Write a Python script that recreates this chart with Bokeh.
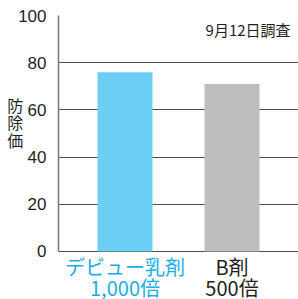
from bokeh.plotting import figure
from bokeh.models import Range1d, FixedTicker, Label, ColumnDataSource
from bokeh.embed import file_html
from bokeh.resources import INLINE

cat_line1 = ["デビュー乳剤", "B剤"]
cat_line2 = ["1,000倍", "500倍"]
values = [76, 71]
bar_colors = ["#6dcff6", "#bcbec0"]
label_colors = ["#1aaee8", "#231f20"]
y_ticks = [0, 20, 40, 60, 80, 100]
note = "9月12日調査"
y_title = "防\n除\n価\n\n\n\n"

xpos = [1, 2]
src = ColumnDataSource(dict(x=xpos, top=values, color=bar_colors))

p = figure(width=298, height=299, output_backend="svg", toolbar_location=None,
           x_range=Range1d(0.3785, 2.6215), y_range=Range1d(-20.34, 100),
           min_border_left=58, min_border_right=0, min_border_top=15, min_border_bottom=0)
p.outline_line_color = None
p.background_fill_color = "white"

p.vbar(x="x", top="top", width=0.514, color="color", source=src, line_color=None)

p.xgrid.visible = False
p.ygrid.ticker = FixedTicker(ticks=y_ticks)
p.ygrid.grid_line_color = "#4d4d4d"
p.ygrid.grid_line_width = 1
p.ygrid.level = "underlay"

p.yaxis.ticker = FixedTicker(ticks=y_ticks)
p.yaxis.bounds = (0, 100)
p.yaxis.major_tick_line_color = None
p.yaxis.minor_tick_line_color = None
p.yaxis.axis_line_color = "#777777"
p.yaxis.axis_line_width = 1.5
p.yaxis.major_label_text_font = "Liberation Sans"
p.yaxis.major_label_text_font_size = "17px"
p.yaxis.major_label_text_color = "#231f20"
p.yaxis.major_label_standoff = 6
p.yaxis.axis_label = y_title
p.yaxis.axis_label_orientation = "horizontal"
p.yaxis.axis_label_standoff = -8
p.yaxis.axis_label_text_font = "Noto Sans CJK JP"
p.yaxis.axis_label_text_font_size = "16px"
p.yaxis.axis_label_text_font_style = "normal"
p.yaxis.axis_label_text_color = "#231f20"
p.yaxis.axis_label_text_line_height = 0.73

p.xaxis.visible = False

for xi, t1, t2, col in zip(xpos, cat_line1, cat_line2, label_colors):
    p.add_layout(Label(x=xi, y=-6.4, text=t1, text_align="center", text_baseline="middle",
                       text_font="Noto Sans CJK JP", text_font_size="20px", text_color=col))
    p.add_layout(Label(x=xi, y=-15.4, text=t2, text_align="center", text_baseline="middle",
                       text_font="Noto Sans CJK JP", text_font_size="20px", text_color=col))

p.add_layout(Label(x=2.547, y=94.1, text=note, text_align="right", text_baseline="middle",
                   text_font="Noto Sans CJK JP", text_font_size="15px", text_color="#231f20"))

open("out.html", "w").write(file_html(p, INLINE))
